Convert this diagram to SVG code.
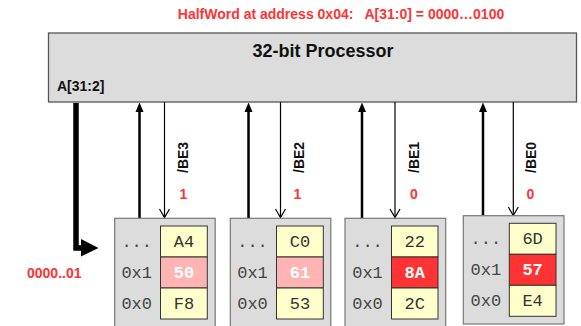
<svg xmlns="http://www.w3.org/2000/svg" width="581" height="326" viewBox="0 0 581 326">
<style>
.lbl{font-family:"Liberation Sans",Arial,sans-serif;font-weight:bold;}
.red{fill:#ff3333;}
.mono{font-family:"Liberation Mono","Courier New",monospace;font-size:17px;fill:#444;text-anchor:middle;}
.cellt{font-family:"Liberation Mono","Courier New",monospace;font-size:17px;fill:#333;text-anchor:middle;}
.hi{fill:#fff;font-weight:bold;}
.mem{fill:#dcdcdc;stroke:#777;stroke-width:1.2;}
.cell{fill:#ffffcc;stroke:#333;stroke-width:1;}
.pink{fill:#ffb3b3;stroke:#333;stroke-width:1;}
.redc{fill:#ff3333;stroke:#333;stroke-width:1;}
.upl{stroke:#000;stroke-width:2.5;fill:none;}
.dnl{stroke:#000;stroke-width:1.2;fill:none;}
.head{fill:#000;}
</style>

<text class="lbl red" x="341" y="19" font-size="14" text-anchor="middle" xml:space="preserve">HalfWord at address 0x04:   A[31:0] = 0000…0100</text>

<g id="processor">
<rect x="48.5" y="33" width="528" height="69" fill="#dcdcdc" stroke="#555" stroke-width="1.3"/>
<text class="lbl" x="323" y="57" font-size="18" text-anchor="middle" fill="#111">32-bit Processor</text>
<text class="lbl" x="57" y="91" font-size="14" fill="#111">A[31:2]</text>
</g>

<g id="connectors">
<path d="M76,103 V248 H84" stroke="#000" stroke-width="5.5" fill="none"/>
<path d="M81,239 L98.5,248 L81,256.5 Z" fill="#000"/>
<line class="upl" x1="139.5" y1="218" x2="139.5" y2="110"/>
<path class="head" d="M135.5,112 L139.5,102.5 L143.5,112 Z"/>
<line class="dnl" x1="164.5" y1="102" x2="164.5" y2="217"/>
<path class="dnl" d="M159.5,209 L164.5,217.5 L169.5,209"/>
<line class="upl" x1="248.5" y1="218" x2="248.5" y2="110"/>
<path class="head" d="M244.5,112 L248.5,102.5 L252.5,112 Z"/>
<line class="dnl" x1="280.5" y1="102" x2="280.5" y2="217"/>
<path class="dnl" d="M275.5,209 L280.5,217.5 L285.5,209"/>
<line class="upl" x1="362" y1="218" x2="362" y2="110"/>
<path class="head" d="M358,112 L362,102.5 L366,112 Z"/>
<line class="dnl" x1="395" y1="102" x2="395" y2="217"/>
<path class="dnl" d="M390,209 L395,217.5 L400,209"/>
<line class="upl" x1="483" y1="215" x2="483" y2="110"/>
<path class="head" d="M479,112 L483,102.5 L487,112 Z"/>
<line class="dnl" x1="513.3" y1="102" x2="513.3" y2="215"/>
<path class="dnl" d="M508.3,207 L513.3,215.5 L518.3,207"/>
<text class="lbl" font-size="14" fill="#111" transform="translate(188,173) rotate(-90)">/BE3</text>
<text class="lbl" font-size="14" fill="#111" transform="translate(303.5,173) rotate(-90)">/BE2</text>
<text class="lbl" font-size="14" fill="#111" transform="translate(418.5,173) rotate(-90)">/BE1</text>
<text class="lbl" font-size="14" fill="#111" transform="translate(535.5,173) rotate(-90)">/BE0</text>
<text class="lbl red" font-size="14" x="183.3" y="199" text-anchor="middle">1</text>
<text class="lbl red" font-size="14" x="297.5" y="199" text-anchor="middle">1</text>
<text class="lbl red" font-size="14" x="414" y="199" text-anchor="middle">0</text>
<text class="lbl red" font-size="14" x="530.5" y="199" text-anchor="middle">0</text>
<text class="lbl red" font-size="14" x="27" y="278">0000..01</text>
</g>

<g id="mem3">
<rect class="mem" x="114.7" y="218.3" width="100.5" height="110"/>
<rect class="cell" x="160.5" y="226" width="46.8" height="31"/>
<rect class="pink" x="160.5" y="257" width="46.8" height="31"/>
<rect class="cell" x="160.5" y="288" width="46.8" height="31"/>
<text class="mono" x="136.7" y="247">...</text>
<text class="mono" x="136.7" y="278">0x1</text>
<text class="mono" x="136.7" y="309">0x0</text>
<text class="cellt" x="183.9" y="247">A4</text>
<text class="cellt hi" x="183.9" y="278">50</text>
<text class="cellt" x="183.9" y="309">F8</text>
</g>

<g id="mem2">
<rect class="mem" x="230.3" y="218.3" width="100.5" height="110"/>
<rect class="cell" x="276.5" y="226" width="46.8" height="31"/>
<rect class="pink" x="276.5" y="257" width="46.8" height="31"/>
<rect class="cell" x="276.5" y="288" width="46.8" height="31"/>
<text class="mono" x="252.5" y="247">...</text>
<text class="mono" x="252.5" y="278">0x1</text>
<text class="mono" x="252.5" y="309">0x0</text>
<text class="cellt" x="299.9" y="247">C0</text>
<text class="cellt hi" x="299.9" y="278">61</text>
<text class="cellt" x="299.9" y="309">53</text>
</g>

<g id="mem1">
<rect class="mem" x="345" y="218.3" width="100.7" height="110"/>
<rect class="cell" x="391.5" y="226" width="46.5" height="31"/>
<rect class="redc" x="391.5" y="257" width="46.5" height="31"/>
<rect class="cell" x="391.5" y="288" width="46.5" height="31"/>
<text class="mono" x="367.5" y="247">...</text>
<text class="mono" x="367.5" y="278">0x1</text>
<text class="mono" x="367.5" y="309">0x0</text>
<text class="cellt" x="414.7" y="247">22</text>
<text class="cellt hi" x="414.7" y="278">8A</text>
<text class="cellt" x="414.7" y="309">2C</text>
</g>

<g id="mem0">
<rect class="mem" x="463.3" y="215.7" width="100.7" height="108.3"/>
<rect class="cell" x="509.3" y="223.3" width="46.7" height="31"/>
<rect class="redc" x="509.3" y="254.3" width="46.7" height="31"/>
<rect class="cell" x="509.3" y="285.3" width="46.7" height="31"/>
<text class="mono" x="485.8" y="244">...</text>
<text class="mono" x="485.8" y="275">0x1</text>
<text class="mono" x="485.8" y="306">0x0</text>
<text class="cellt" x="532.6" y="244">6D</text>
<text class="cellt hi" x="532.6" y="275">57</text>
<text class="cellt" x="532.6" y="306">E4</text>
</g>
</svg>
